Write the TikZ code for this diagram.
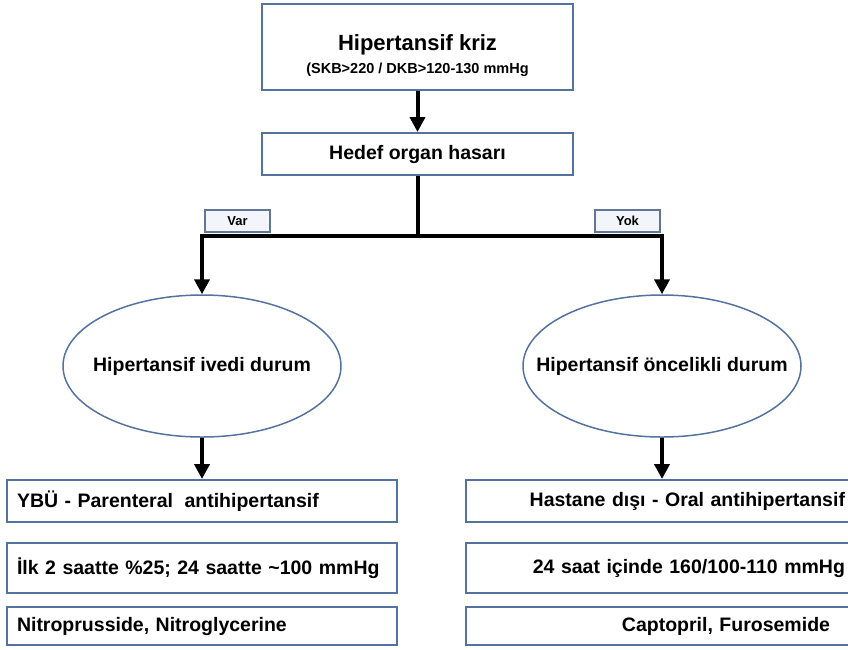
\documentclass[tikz,border=0pt]{standalone}
\usepackage{fontspec}
\setmainfont{Liberation Sans}
\usetikzlibrary{shapes.geometric,arrows.meta}
\definecolor{boxline}{RGB}{84,114,160}
\definecolor{tagfill}{RGB}{242,246,251}

\begin{document}
\begin{tikzpicture}[x=1pt,y=-1pt,
  txt/.style={font=\bfseries\fontsize{19.5}{23}\selectfont},
  kutu/.style={txt,draw=boxline,line width=2pt,rectangle,inner sep=0pt},
  etiket/.style={draw=boxline!70!gray,line width=1.5pt,fill=tagfill,minimum width=65pt,minimum height=22pt,inner sep=0pt,font=\bfseries\fontsize{13}{14}\selectfont},
  durum/.style={txt,draw=boxline,line width=1.5pt,ellipse,minimum width=278pt,minimum height=142pt,inner sep=0pt},
  solkutu/.style={kutu,minimum width=390pt,text width=370pt,align=left},
  sagkutu/.style={kutu,minimum width=392pt,text width=366pt,align=right},
  ok/.style={line width=4pt,line join=miter,-{Triangle[length=15pt,width=15pt]}},
  kalin/.style={line width=4pt}]
\useasboundingbox (0,0) rectangle (848,649);
\clip (0,0) rectangle (848,649);
%
\node[kutu,minimum width=311pt,minimum height=86pt,align=center] (kriz) at (417.5,47)
  {\rule{0pt}{34pt}\fontsize{22}{24}\selectfont Hipertansif kriz\\[0pt]\fontsize{14.5}{16}\selectfont (SKB>220 / DKB>120-130 mmHg};
\node[kutu,minimum width=311pt,minimum height=42pt] (hedef) at (417.5,154) {Hedef organ hasarı};
\coordinate (j) at (417.5,236);
\node[etiket] (var) at (237.5,221) {Var};
\node[etiket] (yok) at (627.5,221) {Yok};
%
\node[durum] (ivedi) at (202,366) {\makebox[0pt]{Hipertansif ivedi durum}};
\node[durum] (oncelik) at (662,366) {\makebox[0pt]{Hipertansif öncelikli durum}};
%
\node[solkutu,minimum height=42pt] (ybu) at (202,501) {YBÜ - Parenteral\hspace{5pt} antihipertansif};
\node[solkutu,minimum height=50pt] (ilk) at (202,568) {İlk 2 saatte \%25; 24 saatte \textasciitilde100 mmHg};
\node[solkutu,minimum height=38pt] (nitro) at (202,626) {Nitroprusside, Nitroglycerine};
%
\node[sagkutu,minimum height=42pt] (hastane) at (662,501) {Hastane dışı - Oral antihipertansif};
\node[sagkutu,minimum height=50pt] (saat) at (662,568) {24 saat içinde 160/100-110 mmHg};
\node[sagkutu,minimum height=38pt] (capto) at (662,626) {Captopril, Furosemide\rule{15pt}{0pt}};
%
\draw[ok] (kriz.south) -- (hedef.north);
\draw[kalin] (hedef.south) -- (j);
\draw[ok] (j) -| (ivedi.north);
\draw[ok] (j) -| (oncelik.north);
\draw[ok] (ivedi.south) -- (ybu.north);
\draw[ok] (oncelik.south) -- (hastane.north);
\end{tikzpicture}
\end{document}
